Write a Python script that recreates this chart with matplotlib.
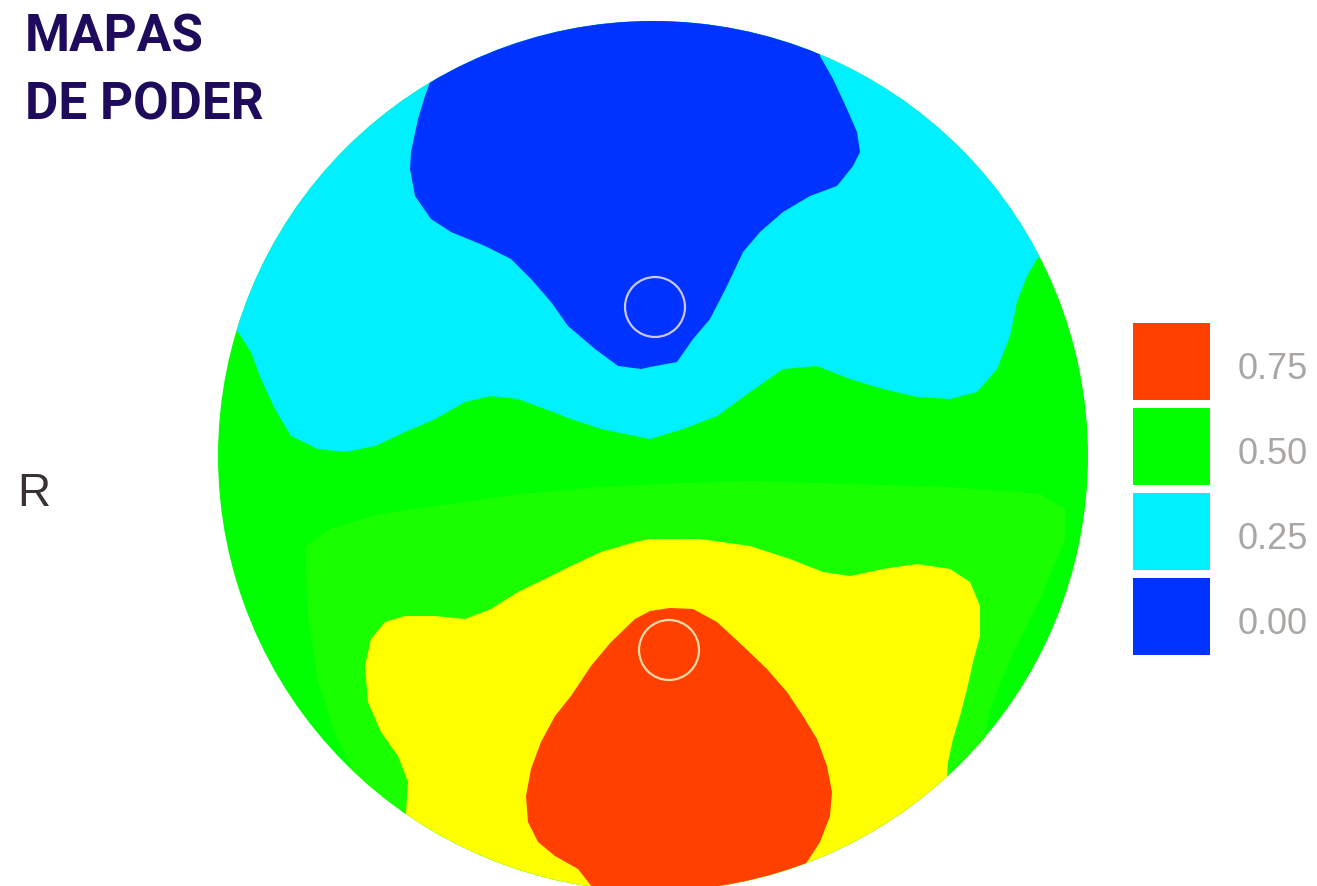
import numpy as np
import matplotlib
matplotlib.use("Agg")
import matplotlib.pyplot as plt
from matplotlib.patches import Circle, Polygon, Rectangle

W, H = 1317, 887
DPI = 100

# Scalp disc radius in map units (map spans 0..2R, y grows downward)
head_radius = 435

# Outlines of each power band on the scalp map (map units)
blue_region = [(212, 61), (207, 75), (200, 98), (193, 131), (192, 148), (197, 175),
               (213, 198), (233, 211), (267, 225), (293, 238), (313, 258), (333, 281),
               (350, 305), (377, 328), (400, 345), (423, 348), (432, 346), (459, 341),
               (475, 318), (492, 298), (509, 265), (525, 231), (542, 211), (565, 191),
               (592, 175), (619, 165), (635, 145), (642, 131), (639, 111), (629, 88),
               (615, 58), (602, 35), (602, -20), (212, -20)]

cyan_region = [(2, 303), (20, 311), (33, 331), (43, 358), (57, 388), (73, 415),
               (100, 428), (127, 431), (157, 425), (187, 411), (217, 398), (247, 381),
               (273, 375), (300, 378), (327, 388), (353, 398), (383, 408), (417, 415),
               (432, 418), (465, 408), (499, 395), (532, 371), (565, 348), (599, 345),
               (632, 358), (665, 368), (699, 376), (732, 378), (759, 371), (779, 348),
               (792, 315), (799, 281), (809, 255), (819, 238), (832, 223), (880, -20),
               (-20, -20)]

band_region = [(87, 526), (112, 508), (162, 493), (232, 483), (302, 473), (382, 466),
               (440, 463), (532, 460), (632, 463), (732, 466), (822, 473), (847, 488),
               (847, 518), (822, 578), (792, 638), (772, 688), (767, 718), (767, 880),
               (137, 880), (137, 753), (117, 713), (100, 661), (90, 595)]

yellow_region = [(187, 808), (190, 761), (180, 735), (163, 711), (150, 681), (147, 645),
                 (153, 618), (167, 601), (187, 595), (217, 595), (247, 598), (273, 588),
                 (300, 571), (327, 558), (353, 545), (383, 531), (417, 521), (432, 518),
                 (482, 518), (532, 525), (572, 538), (605, 551), (632, 555), (665, 548),
                 (699, 543), (732, 548), (752, 561), (762, 585), (762, 615), (755, 641),
                 (749, 668), (742, 695), (735, 718), (730, 741), (729, 756), (732, 778),
                 (732, 900), (187, 900)]

red_region = [(308, 775), (313, 748), (323, 721), (337, 695), (353, 675), (373, 645),
              (393, 621), (417, 598), (432, 590), (452, 587), (475, 588), (499, 601),
              (525, 625), (549, 648), (569, 671), (585, 695), (599, 718), (609, 745),
              (614, 771), (612, 795), (602, 821), (589, 841), (579, 851), (572, 880),
              (385, 880), (360, 848), (337, 835), (320, 821), (310, 801)]

region_colors = {
    "green": "#00FF00",
    "band": "#1AFF00",
    "cyan": "#00F0FF",
    "blue": "#0033FF",
    "yellow": "#FFFF00",
    "red": "#FF4000",
}

# Electrode markers
electrode_x = [437, 451]
electrode_y = [286, 629]
electrode_r = 30
electrode_colors = ["#C9C6FF", "#FFD9A8"]

legend_labels = ["0.75", "0.50", "0.25", "0.00"]
legend_colors = ["#FF4000", "#00FF00", "#00F0FF", "#0033FF"]

fig = plt.figure(figsize=(W / DPI, H / DPI), dpi=DPI)
fig.patch.set_facecolor("white")

# --- scalp map ---
map_size = 2 * head_radius
ax = fig.add_axes([218 / W, (H - 22 - map_size) / H, map_size / W, map_size / H])
ax.set_xlim(0, map_size)
ax.set_ylim(map_size, 0)
ax.set_aspect("equal")
ax.axis("off")

disc = Circle((head_radius, head_radius), head_radius, facecolor=region_colors["green"],
              edgecolor="none", zorder=1)
ax.add_patch(disc)

layers = [(band_region, "band"), (yellow_region, "yellow"), (red_region, "red"),
          (cyan_region, "cyan"), (blue_region, "blue")]
for z, (pts, key) in enumerate(layers):
    poly = Polygon(np.array(pts, dtype=float), closed=True,
                   facecolor=region_colors[key], edgecolor="none", zorder=2 + z)
    ax.add_patch(poly)
    poly.set_clip_path(disc)

for x, y, c in zip(electrode_x, electrode_y, electrode_colors):
    ax.add_patch(Circle((x, y), electrode_r, fill=False, edgecolor=c, lw=1.6, zorder=10))

# --- overlay for titles and legend (pixel layout) ---
ov = fig.add_axes([0, 0, 1, 1])
ov.set_xlim(0, W)
ov.set_ylim(H, 0)
ov.axis("off")
ov.patch.set_alpha(0)

title_color = "#1E0B5C"
ov.text(25, 52, "MAPAS", family="Roboto", fontweight="bold", fontsize=37,
        color=title_color, va="baseline", ha="left")
ov.text(25, 120, "DE PODER", family="Roboto", fontweight="bold", fontsize=37,
        color=title_color, va="baseline", ha="left")

ov.text(17, 506, "R", family="Liberation Sans", fontsize=33, color="#3A3232",
        va="baseline", ha="left")

box_top, box_size, box_gap = 324, 77, 85
for i, (lab, col) in enumerate(zip(legend_labels, legend_colors)):
    top = box_top + i * box_gap
    ov.add_patch(Rectangle((1133, top), box_size, box_size, facecolor=col,
                           edgecolor="none"))
    ov.text(1238, top + 55, lab, family="Liberation Sans", fontsize=26,
            color="#A9A6A3", va="baseline", ha="left")

fig.savefig("out.png", dpi=DPI)
